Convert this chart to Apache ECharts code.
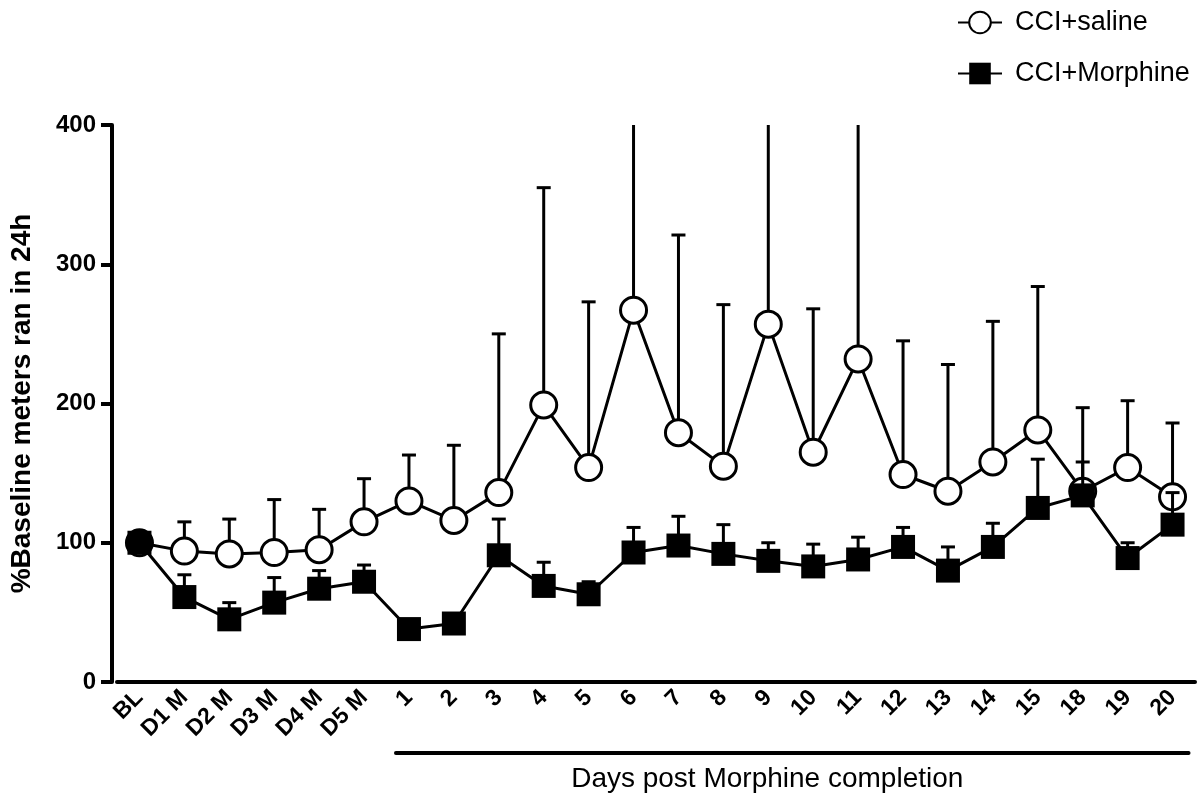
<!DOCTYPE html>
<html>
<head>
<meta charset="utf-8">
<script src="https://cdn.jsdelivr.net/npm/echarts@6/dist/echarts.min.js"></script>
<style>
html, body { margin: 0; padding: 0; background: #fff; }
#chart { width: 1201px; height: 799px; }
</style>
</head>
<body>
<div id="chart"></div>
<script>
// categories
var days = ['BL', 'D1 M', 'D2 M', 'D3 M', 'D4 M', 'D5 M', '1', '2', '3', '4', '5', '6', '7', '8',
    '9', '10', '11', '12', '13', '14', '15', '18', '19', '20'];

// means
var salineMean = [100, 94, 92, 93, 95, 115, 130, 116, 136, 199, 154, 267, 179, 155, 257, 165, 232, 149, 137, 158, 181, 137, 154, 133];
var morphineMean = [100, 61, 45, 57, 67, 72, 38, 42, 91, 69, 63, 93, 98, 92, 87, 83, 88, 97, 80, 97, 125, 134, 89, 113];

// upper ends of the error bars (mean + SEM)
var salineUpper = [100, 115, 117, 131, 124, 146, 163, 170, 250, 355, 273, 430, 321, 271, 430, 268, 430, 245, 228, 259, 284, 158, 202, 186];
var morphineUpper = [100, 77, 57, 75, 80, 84, 38, 42, 117, 86, 72, 111, 119, 113, 100, 99, 104, 111, 97, 114, 160, 197, 100, 136];

var yTicks = [0, 100, 200, 300, 400];

var font = 'Liberation Sans, Arial, Helvetica, sans-serif';

function errData(mean, upper) {
    var out = [];
    for (var i = 0; i < mean.length; i++) {
        out.push([i, mean[i], upper[i]]);
    }
    return out;
}

function renderErr(params, api) {
    var p0 = api.coord([api.value(0), api.value(1)]);
    var p1 = api.coord([api.value(0), api.value(2)]);
    var style = { stroke: '#000', lineWidth: 3 };
    return {
        type: 'group',
        children: [
            { type: 'line', shape: { x1: p0[0], y1: p0[1], x2: p1[0], y2: p1[1] }, style: style },
            { type: 'line', shape: { x1: p1[0] - 7, y1: p1[1], x2: p1[0] + 7, y2: p1[1] }, style: style }
        ]
    };
}

var myChart = echarts.init(document.getElementById('chart'));
var options = {
    backgroundColor: '#fff',
    animation: false,
    textStyle: { fontFamily: font, color: '#000' },
    legend: {
        orient: 'vertical',
        left: 952,
        top: 4,
        itemWidth: 44,
        itemHeight: 27,
        itemGap: 24,
        textStyle: { fontFamily: font, fontSize: 27, color: '#000', padding: [0, 0, 0, 8] },
        data: ['CCI+saline', 'CCI+Morphine']
    },
    grid: { left: 117, right: 6, top: 125, bottom: 117 },
    xAxis: {
        type: 'category',
        data: days,
        boundaryGap: true,
        axisLine: { lineStyle: { color: '#000', width: 4 } },
        axisTick: { alignWithLabel: true, length: 9, lineStyle: { color: '#000', width: 3 } },
        axisLabel: {
            rotate: 45,
            interval: 0,
            margin: 12,
            fontFamily: font,
            fontWeight: 'bold',
            fontSize: 23,
            color: '#000'
        }
    },
    yAxis: {
        type: 'value',
        min: 0,
        max: 400,
        interval: 100,
        offset: 5,
        name: '%Baseline meters ran in 24h',
        nameLocation: 'middle',
        nameGap: 76,
        nameTextStyle: { fontFamily: font, fontWeight: 'bold', fontSize: 28, color: '#000' },
        axisLine: { show: true, lineStyle: { color: '#000', width: 4 } },
        axisTick: { show: true, length: 11, lineStyle: { color: '#000', width: 4 } },
        axisLabel: {
            margin: 16,
            fontFamily: font,
            fontWeight: 'bold',
            fontSize: 24,
            color: '#000',
            formatter: function (v) { return yTicks.indexOf(v) >= 0 ? String(v) : ''; }
        },
        splitLine: { show: false }
    },
    series: [
        {
            name: 'saline-err',
            type: 'custom',
            renderItem: renderErr,
            clip: true,
            z: 1,
            data: errData(salineMean, salineUpper),
            encode: { x: 0, y: [1, 2] }
        },
        {
            name: 'CCI+saline',
            type: 'line',
            z: 2,
            data: salineMean,
            symbol: 'circle',
            symbolSize: 26,
            lineStyle: { color: '#000', width: 3 },
            itemStyle: { color: '#fff', borderColor: '#000', borderWidth: 3 }
        },
        {
            name: 'morphine-err',
            type: 'custom',
            renderItem: renderErr,
            clip: true,
            z: 3,
            data: errData(morphineMean, morphineUpper),
            encode: { x: 0, y: [1, 2] }
        },
        {
            name: 'CCI+Morphine',
            type: 'line',
            z: 4,
            data: morphineMean,
            symbol: 'rect',
            symbolSize: 24,
            lineStyle: { color: '#000', width: 3 },
            itemStyle: { color: '#000', borderColor: '#000', borderWidth: 0 }
        }
    ]
};

myChart.setOption(options);

// bracket under "Days post Morphine completion"
var xStart = myChart.convertToPixel({ xAxisIndex: 0 }, '1') - 13;
var xEnd = myChart.convertToPixel({ xAxisIndex: 0 }, '20') + 16;
myChart.setOption({
    graphic: [
        {
            type: 'line',
            shape: { x1: xStart, y1: 753, x2: xEnd, y2: 753 },
            style: { stroke: '#000', lineWidth: 4, lineCap: 'round' }
        },
        {
            type: 'text',
            x: (xStart + xEnd) / 2 - 25,
            y: 779,
            style: {
                text: 'Days post Morphine completion',
                fontFamily: font,
                fontSize: 28,
                fill: '#000',
                align: 'center',
                verticalAlign: 'middle'
            }
        }
    ]
});
</script>
</body>
</html>
